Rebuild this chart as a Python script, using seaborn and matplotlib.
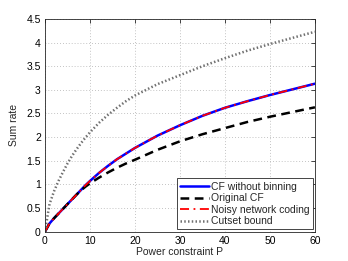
import matplotlib
matplotlib.use('Agg')
import matplotlib.pyplot as plt
import numpy as np
import pandas as pd
import seaborn as sns

# values
power = [0, 1, 2, 3, 4, 5, 6, 7, 8, 9, 10, 12, 14, 16, 18, 20,
         25, 30, 35, 40, 45, 50, 55, 60]
cf_no_binning = [0, 0.17, 0.28, 0.38, 0.48, 0.58, 0.68, 0.78, 0.88, 0.98,
                 1.07, 1.24, 1.39, 1.53, 1.65, 1.77, 2.03, 2.25, 2.45, 2.62,
                 2.76, 2.89, 3.01, 3.13]
original_cf = [0, 0.17, 0.28, 0.38, 0.48, 0.58, 0.68, 0.78, 0.87, 0.95,
               1.02, 1.14, 1.25, 1.35, 1.44, 1.52, 1.73, 1.91, 2.06, 2.19,
               2.32, 2.43, 2.53, 2.63]
noisy_nc = list(cf_no_binning)
cutset = [0, 0.58, 0.85, 1.07, 1.26, 1.44, 1.60, 1.74, 1.87, 1.99,
          2.10, 2.30, 2.47, 2.62, 2.76, 2.88, 3.12, 3.31, 3.50, 3.67,
          3.83, 3.97, 4.10, 4.23]

labels = ['CF without binning', 'Original CF', 'Noisy network coding',
          'Cutset bound']
xticks = [0, 10, 20, 30, 40, 50, 60]
yticks = [0, 0.5, 1, 1.5, 2, 2.5, 3, 3.5, 4, 4.5]

sns.set_style('white')
plt.rcParams['font.family'] = ['Liberation Sans', 'DejaVu Sans']
plt.rcParams['font.size'] = 7.5

fig = plt.figure(figsize=(3.48, 2.61), dpi=100)
ax = fig.add_axes([0.1293, 0.1130, 0.7757, 0.8142])

df = pd.DataFrame({'P': power, 'cf': cf_no_binning, 'orig': original_cf,
                   'nnc': noisy_nc, 'cut': cutset})

sns.lineplot(data=df, x='P', y='cf', ax=ax, color='#0000ff', lw=1.8,
             label=labels[0])
sns.lineplot(data=df, x='P', y='orig', ax=ax, color='black', lw=1.8,
             linestyle=(0, (3.5, 2.2)), label=labels[1])
sns.lineplot(data=df, x='P', y='nnc', ax=ax, color='#ff0000', lw=1.3,
             linestyle=(0, (5, 2.5, 1, 2.5)), label=labels[2])
sns.lineplot(data=df, x='P', y='cut', ax=ax, color='#707070', lw=1.8,
             linestyle=(0, (0.6, 0.9)), label=labels[3])

ax.set_xlim(0, 60)
ax.set_ylim(0, 4.5)
ax.set_xticks(xticks)
ax.set_yticks(yticks)
ax.set_xticklabels([f'{t:g}' for t in xticks])
ax.set_yticklabels([f'{t:g}' for t in yticks])
ax.set_xlabel('Power constraint P', labelpad=1)
ax.set_ylabel('Sum rate', labelpad=5)

ax.grid(True, linestyle=(0, (1, 2.5)), color='#b0b0b0', lw=0.6)
ax.tick_params(direction='in', length=3, width=0.5, top=True, right=True,
               pad=3, colors='black', labelsize=7.5)
for s in ax.spines.values():
    s.set_color('#262626')
    s.set_linewidth(0.6)

leg = ax.legend(loc='lower right', fontsize=7.5, frameon=True, fancybox=False,
                edgecolor='#262626', framealpha=1, borderaxespad=0.2,
                handlelength=2.8, handletextpad=0.2, labelspacing=0.15,
                borderpad=0.3)
leg.get_frame().set_linewidth(0.6)

fig.savefig('out.png', dpi=100)
